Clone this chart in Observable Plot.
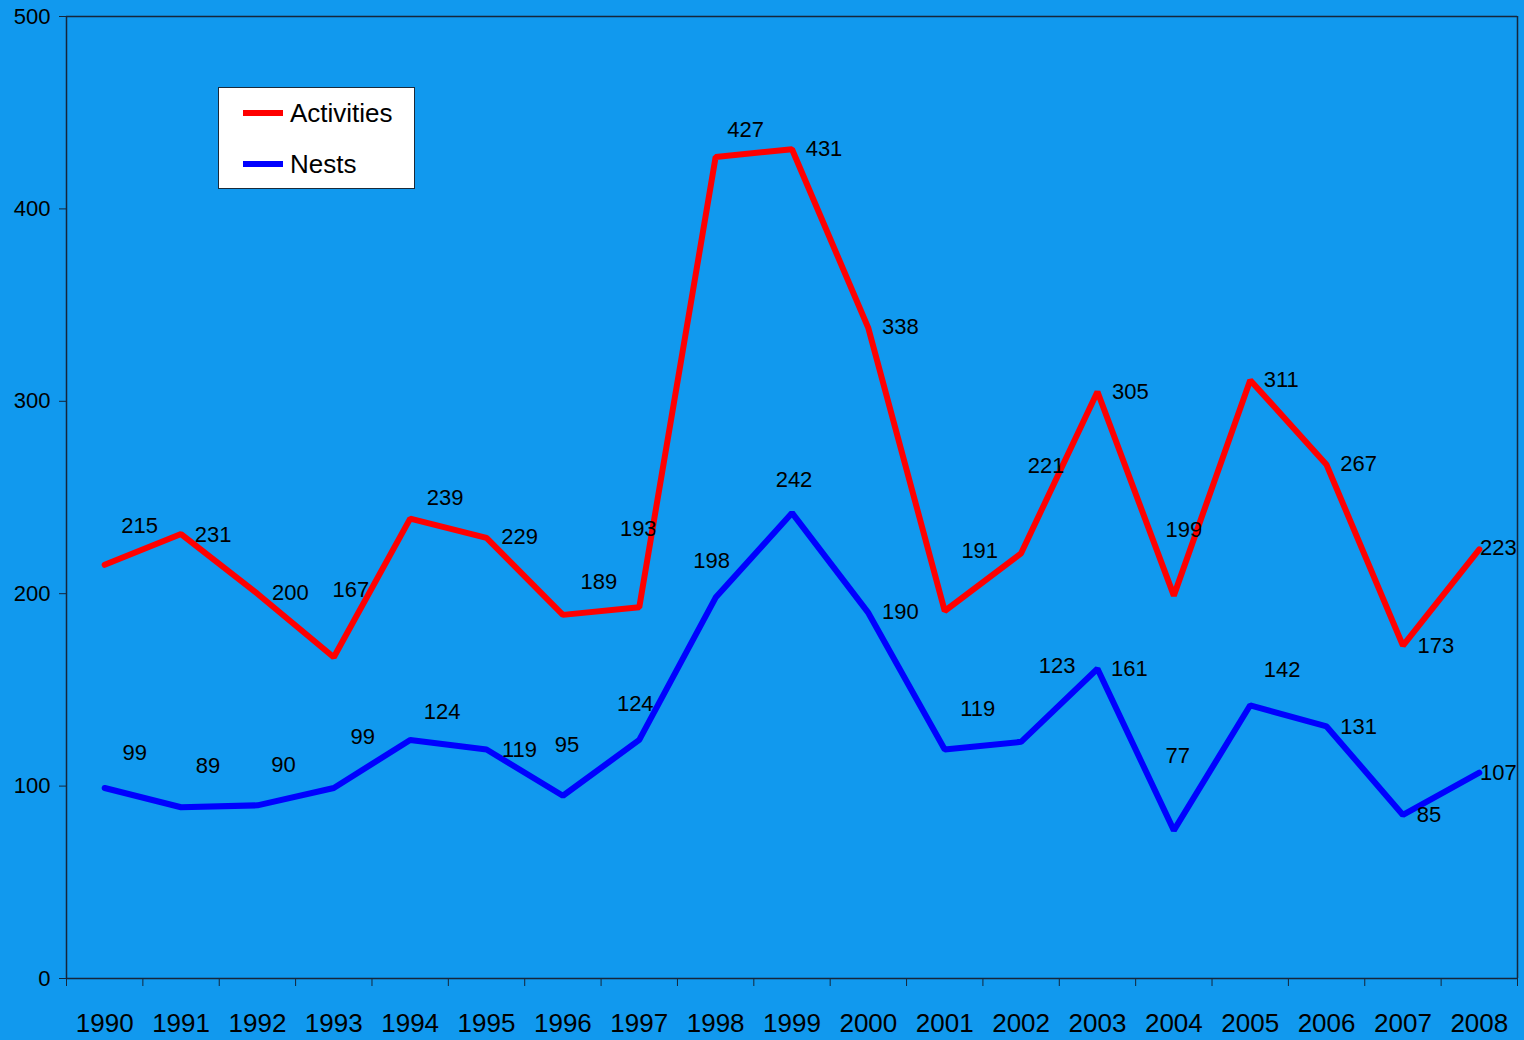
<!DOCTYPE html>
<html>
<head>
<meta charset="utf-8">
<script src="https://cdn.jsdelivr.net/npm/d3@7"></script>
<script src="https://cdn.jsdelivr.net/npm/@observablehq/plot@0.6"></script>
<style>
  html, body { margin: 0; padding: 0; background: #1199ee; }
  #wrap { position: relative; width: 1524px; height: 1040px; font-family: "Liberation Sans", Arial, sans-serif; }
  #legend { position: absolute; left: 218px; top: 87px; width: 195px; height: 100px; background: #fff; border: 1px solid #1a2a3a; }
  .li { position: absolute; left: 24px; height: 30px; display: flex; align-items: center; font-size: 26px; color: #000; }
  .sw { width: 40px; height: 6px; margin-right: 7px; }
</style>
</head>
<body>
<div id="wrap"></div>
<script>
const years = [1990,1991,1992,1993,1994,1995,1996,1997,1998,1999,2000,2001,2002,2003,2004,2005,2006,2007,2008];
const activities = [215,231,200,167,239,229,189,193,427,431,338,191,221,305,199,311,267,173,223];
const nests = [99,89,90,99,124,119,95,124,198,242,190,119,123,161,77,142,131,85,107];
const yTicks = [0,100,200,300,400,500];
const seriesNames = ["Activities","Nests"];
const seriesColors = ["#ff0000","#0000ff"];

// label offsets (pixels) relative to each point
const actDx = [35,32,33,17,35,33,36,-1,30,32,32,35,25,33,10,31,32,33,19];
const actDy = [-39,1,-1,-67,-21,-1,-33,-78,-27,0,-1,-60,-87,0,-66,0,-1,0,-1];
const nestDx = [30,27,26,29,32,33,4,-4,-4,2,32,33,36,32,4,32,32,26,19];
const nestDy = [-35,-41,-40,-51,-28,0,-51,-36,-37,-33,-1,-41,-76,0,-74,-35,0,0,0];

const act = years.map((y,i) => ({year: y, value: activities[i], series: seriesNames[0]}));
const nst = years.map((y,i) => ({year: y, value: nests[i], series: seriesNames[1]}));
const bounds = years.map(y => y - 0.5).concat([years[years.length-1] + 0.5]);

const labelMarks = [];
act.forEach((d,i) => labelMarks.push(Plot.text([d], {x: "year", y: "value", text: d => String(d.value), dx: actDx[i], dy: actDy[i], fontSize: 22, fill: "#000"})));
nst.forEach((d,i) => labelMarks.push(Plot.text([d], {x: "year", y: "value", text: d => String(d.value), dx: nestDx[i], dy: nestDy[i], fontSize: 22, fill: "#000"})));

const axisColor = "#15263a";

const chart = Plot.plot({
  width: 1524,
  height: 1040,
  marginLeft: 66,
  marginRight: 7,
  marginTop: 16,
  marginBottom: 62,
  style: {background: "#1199ee", fontFamily: "'Liberation Sans', Arial, sans-serif", color: "#000"},
  x: {domain: [bounds[0], bounds[bounds.length-1]], axis: null},
  y: {domain: [0, 500], axis: null},
  marks: [
    Plot.axisY({ticks: yTicks, tickSize: 7, tickPadding: 9, fontSize: 22, stroke: axisColor, fill: "#000", label: null, tickFormat: d => String(d)}),
    Plot.axisX({ticks: bounds, tickSize: 8, tickFormat: () => "", label: null, stroke: axisColor}),
    Plot.axisX({ticks: years, tickSize: 0, tickPadding: 35, fontSize: 26, fill: "#000", label: null, tickFormat: d => String(d)}),
    Plot.ruleX([bounds[0]], {stroke: axisColor, strokeWidth: 1.5}),
    Plot.ruleX([bounds[bounds.length-1]], {stroke: axisColor, strokeWidth: 1.5}),
    Plot.ruleY([0], {stroke: axisColor, strokeWidth: 1.5}),
    Plot.ruleY([500], {stroke: axisColor, strokeWidth: 1.5}),
    Plot.line(act, {x: "year", y: "value", stroke: seriesColors[0], strokeWidth: 6, strokeLinejoin: "miter"}),
    Plot.line(nst, {x: "year", y: "value", stroke: seriesColors[1], strokeWidth: 6, strokeLinejoin: "miter"}),
    ...labelMarks
  ]
});

const wrap = document.getElementById("wrap");
wrap.appendChild(chart);
const legend = document.createElement("div");
legend.id = "legend";
seriesNames.forEach((name, i) => {
  const item = document.createElement("div");
  item.className = "li";
  item.style.top = (10 + i * 51) + "px";
  const sw = document.createElement("span");
  sw.className = "sw";
  sw.style.background = seriesColors[i];
  const t = document.createElement("span");
  t.textContent = name;
  item.appendChild(sw);
  item.appendChild(t);
  legend.appendChild(item);
});
wrap.appendChild(legend);
</script>
</body>
</html>
